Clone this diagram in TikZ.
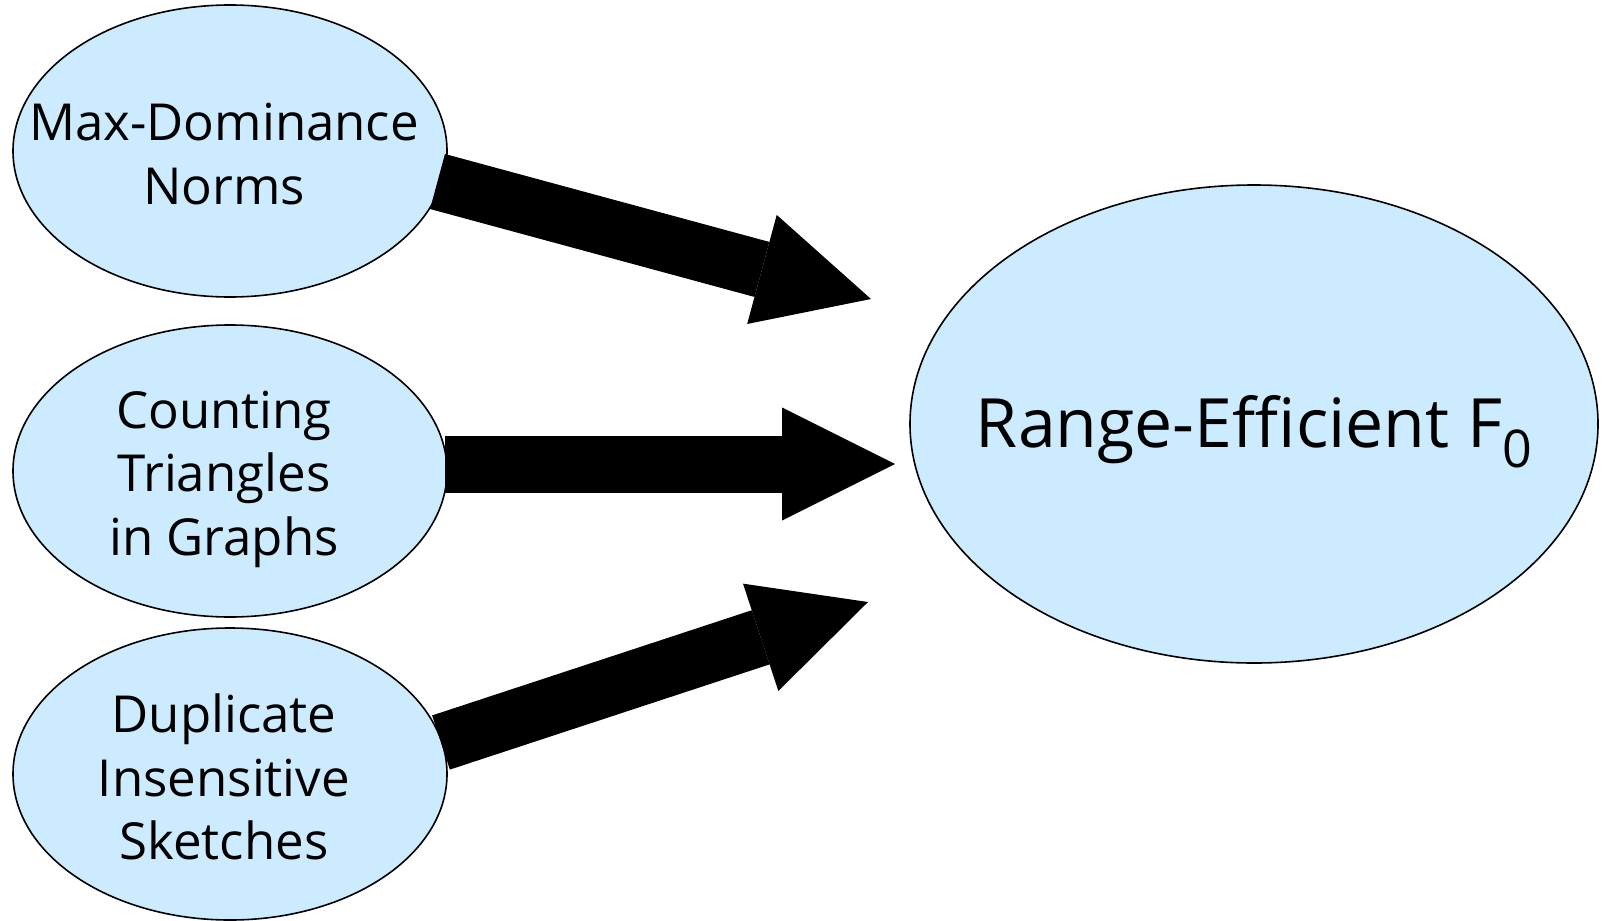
\documentclass[tikz,border=0pt]{standalone}
\usepackage{fontspec}
\setmainfont{Open Sans}
\usetikzlibrary{arrows.meta,shapes.geometric}
\definecolor{ellfill}{HTML}{CCEBFF}
\begin{document}
\begin{tikzpicture}[x=0.5pt,y=-0.5pt,
  srcell/.style={ellipse,draw=black,line width=0.8pt,fill=ellfill,inner sep=0pt,minimum width=217pt,minimum height=146pt},
  bigell/.style={ellipse,draw=black,line width=0.8pt,fill=ellfill,inner sep=0pt,minimum width=344pt,minimum height=239pt},
  lbl/.style={align=center,font=\fontsize{25.5}{31.75}\selectfont},
  biglbl/.style={font=\fontsize{34}{40}\selectfont},
  bigarrow/.style={line width=28.5pt,-{Triangle[length=56.5pt,width=56.5pt,line width=0pt]}}
]
\useasboundingbox (0,0) rectangle (1604,920);
\node[srcell] (a) at (230,151) {};
\node[srcell] (b) at (230,471) {};
\node[srcell] (c) at (230,774) {};
\node[bigell] (d) at (1254,424) {};
\node[lbl] (ta) at (224,154) {Max-Dominance\\Norms};
\node[lbl] (tb) at (224,479) {Counting\\Triangles\\in Graphs};
\node[lbl] (tc) at (224,777) {Duplicate\\Insensitive\\Sketches};
\node[biglbl] (td) at (1254,432) {Range-Efficient F\raisebox{-0.3em}{\fontsize{26}{26}\selectfont 0}};
\coordinate (s1) at (437.5,181.5);
\coordinate (e1) at (871,299);
\coordinate (s2) at (445,464);
\coordinate (e2) at (895,464);
\coordinate (s3) at (441,742.5);
\coordinate (e3) at (868,602);
\draw[bigarrow] (s1) -- (e1);
\draw[bigarrow] (s2) -- (e2);
\draw[bigarrow] (s3) -- (e3);
\end{tikzpicture}
\end{document}
